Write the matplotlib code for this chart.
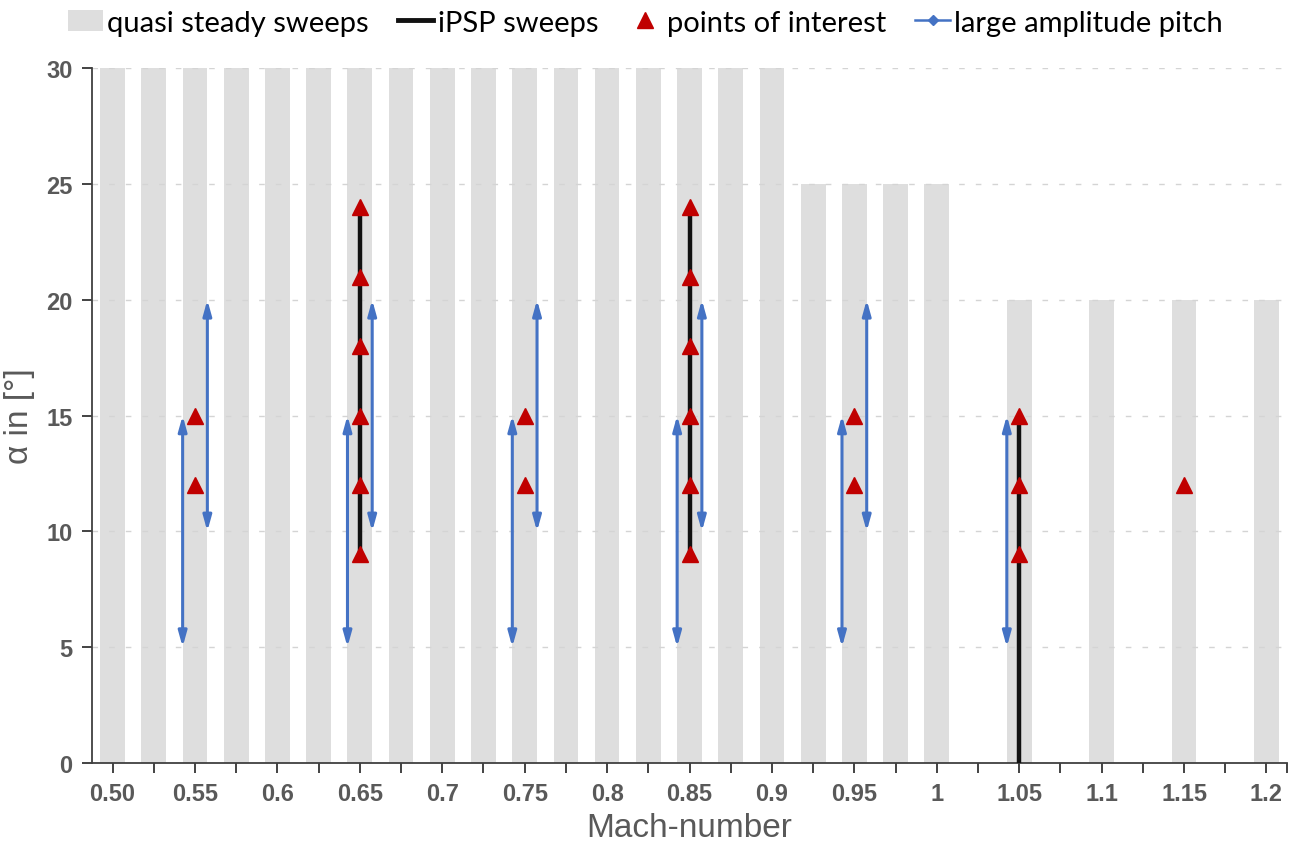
import matplotlib
import matplotlib.pyplot as plt
from matplotlib.lines import Line2D
from matplotlib.patches import Patch

matplotlib.use('Agg')

# quasi steady sweeps: max alpha for each Mach number
mach_qs = [0.50, 0.525, 0.55, 0.575, 0.6, 0.625, 0.65, 0.675, 0.7, 0.725, 0.75,
           0.775, 0.8, 0.825, 0.85, 0.875, 0.9, 0.925, 0.95, 0.975, 1.0,
           1.05, 1.1, 1.15, 1.2]
alpha_qs = [30, 30, 30, 30, 30, 30, 30, 30, 30, 30, 30,
            30, 30, 30, 30, 30, 30, 25, 25, 25, 25,
            20, 20, 20, 20]

# iPSP sweeps
mach_ipsp = [0.65, 0.85, 1.05]
alpha_ipsp_lo = [9, 9, 0]
alpha_ipsp_hi = [24, 24, 15]

# points of interest
mach_poi = [0.55, 0.55,
            0.65, 0.65, 0.65, 0.65, 0.65, 0.65,
            0.75, 0.75,
            0.85, 0.85, 0.85, 0.85, 0.85, 0.85,
            0.95, 0.95,
            1.05, 1.05, 1.05,
            1.15]
alpha_poi = [12, 15,
             9, 12, 15, 18, 21, 24,
             12, 15,
             9, 12, 15, 18, 21, 24,
             12, 15,
             9, 12, 15,
             12]

# large amplitude pitch ranges
mach_pitch = [0.55, 0.55, 0.65, 0.65, 0.75, 0.75, 0.85, 0.85, 0.95, 0.95, 1.05]
alpha_pitch_lo = [5, 10, 5, 10, 5, 10, 5, 10, 5, 10, 5]
alpha_pitch_hi = [15, 20, 15, 20, 15, 20, 15, 20, 15, 20, 15]

tick_pos = [0.50, 0.525, 0.55, 0.575, 0.6, 0.625, 0.65, 0.675, 0.7, 0.725, 0.75,
            0.775, 0.8, 0.825, 0.85, 0.875, 0.9, 0.925, 0.95, 0.975, 1.0,
            1.025, 1.05, 1.075, 1.1, 1.125, 1.15, 1.175, 1.2, 1.2125]
tick_lbl = ['0.50', '', '0.55', '', '0.6', '', '0.65', '', '0.7', '', '0.75',
            '', '0.8', '', '0.85', '', '0.9', '', '0.95', '', '1',
            '', '1.05', '', '1.1', '', '1.15', '', '1.2', '']

GREY = '#dedede'
BLUE = '#4472c4'
RED = '#c00000'
TXT = '#595959'

plt.rcParams['font.family'] = ['Liberation Sans', 'DejaVu Sans']

fig = plt.figure(figsize=(12.99, 8.45), dpi=100)
ax = fig.add_axes([0.0708, 0.0962, 0.92, 0.8216])

ax.bar(mach_qs, alpha_qs, width=0.015, color=GREY, zorder=1)

for m, lo, hi in zip(mach_ipsp, alpha_ipsp_lo, alpha_ipsp_hi):
    ax.plot([m, m], [lo, hi], color='#111111', lw=3.2, zorder=3,
            solid_capstyle='butt')

for m, lo, hi in zip(mach_pitch, alpha_pitch_lo, alpha_pitch_hi):
    # lower range sits left of the Mach line, upper range right of it
    x = m - 0.0075 if lo == 5 else m + 0.0075
    ax.annotate('', xy=(x, hi), xytext=(x, lo),
                arrowprops=dict(arrowstyle='<|-|>,head_length=0.9,head_width=0.25',
                                color=BLUE, lw=2.2, shrinkA=0, shrinkB=0),
                zorder=3)

ax.plot(mach_poi, alpha_poi, linestyle='none', marker='^', color=RED,
        markersize=11, zorder=4)

ax.set_xlim(0.4875, 1.2125)
ax.set_ylim(0, 30)
ax.set_xticks(tick_pos)
ax.set_xticklabels(tick_lbl)
ax.set_yticks([0, 5, 10, 15, 20, 25, 30])

ax.set_axisbelow('line')
ax.yaxis.grid(True, color='#d4d4d4', linestyle=(0, (4, 8)), lw=1)

for s in ['top', 'right']:
    ax.spines[s].set_visible(False)
for s in ['left', 'bottom']:
    ax.spines[s].set_color('#404040')
    ax.spines[s].set_linewidth(1.3)

ax.tick_params(direction='out', length=7, width=1.2, color='#222222',
               labelcolor=TXT, labelsize=17)
ax.tick_params(axis='x', pad=7)
ax.tick_params(axis='y', pad=7)
for lbl in ax.get_xticklabels() + ax.get_yticklabels():
    lbl.set_fontweight('bold')

ax.set_xlabel('Mach-number', fontsize=24, color=TXT, labelpad=5)
ax.set_ylabel('α in [°]', fontsize=24, color=TXT, labelpad=8)

handles = [
    Patch(facecolor=GREY, edgecolor='none'),
    Line2D([], [], color='#111111', lw=3.5),
    Line2D([], [], linestyle='none', marker='^', color=RED, markersize=11),
    Line2D([], [], color=BLUE, lw=1.8, marker='D', markersize=5),
]
labels = ['quasi steady sweeps', 'iPSP sweeps', 'points of interest',
          'large amplitude pitch']
fig.legend(handles, labels, loc='center', bbox_to_anchor=(0.497, 0.972),
           ncol=4, frameon=False, prop={'family': 'Lato', 'size': 21},
           handlelength=1.2, handletextpad=0.15, columnspacing=1.0)

fig.savefig('out.png', dpi=100)
